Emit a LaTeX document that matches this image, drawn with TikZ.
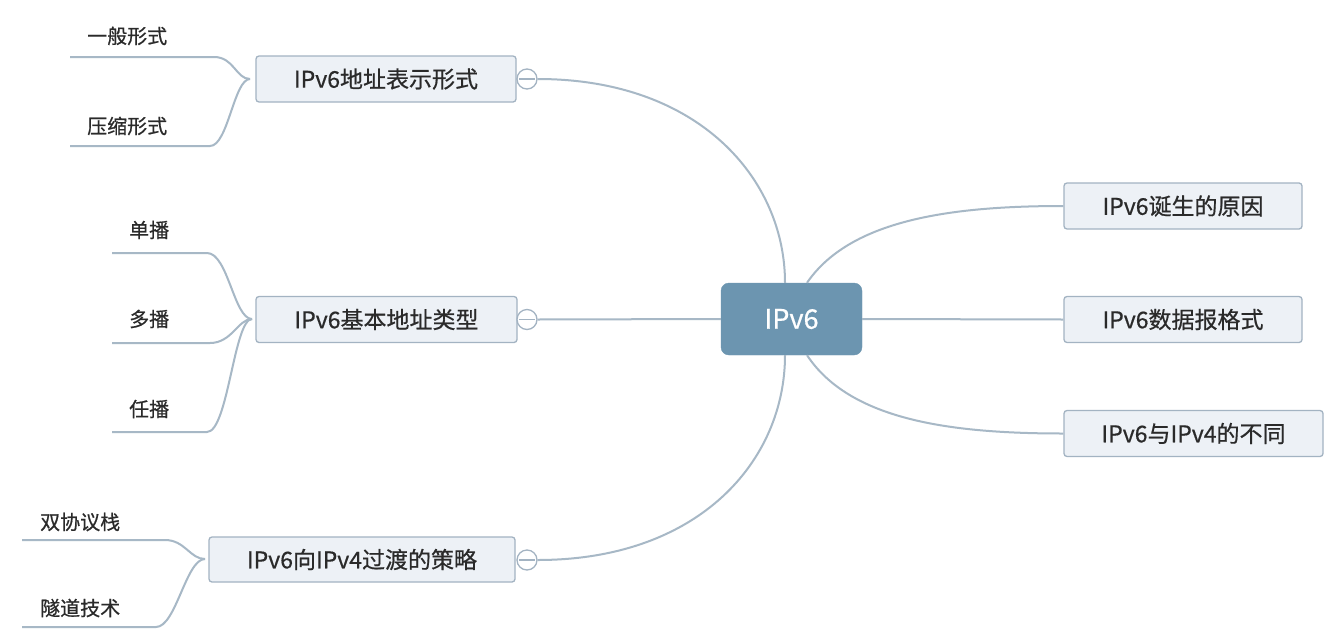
\documentclass[tikz,border=0pt]{standalone}
\usepackage{fontspec}
\setmainfont{Noto Sans CJK SC}[FakeBold=0.6]
\definecolor{linecol}{HTML}{A7B8C6}
\definecolor{boxborder}{HTML}{A3B3C2}
\definecolor{boxfill}{HTML}{EDF1F6}
\definecolor{rootfill}{HTML}{6C95B0}
\definecolor{txt}{HTML}{2A2A2A}
\tikzset{
  box/.style={draw=boxborder, fill=boxfill, rounded corners=3pt, line width=1.3pt, text=txt,
    font=\fontsize{23}{27}\selectfont, inner sep=0pt},
  rootbox/.style={fill=rootfill, draw=rootfill, rounded corners=8pt, text=white,
    font=\fontsize{27}{31}\selectfont, inner sep=0pt, minimum width=141pt, minimum height=72pt},
  leaf/.style={anchor=west, text=txt, font=\fontsize{20}{24}\selectfont, inner sep=0pt},
  link/.style={draw=linecol, line width=2pt},
  toggle/.style={circle, draw=boxborder, fill=white, minimum size=20pt, inner sep=0pt, line width=1.3pt},
  minusbar/.style={draw=boxborder, line width=1.3pt}
}
\begin{document}
\begin{tikzpicture}[x=1pt,y=-1pt]
\useasboundingbox (0,0) rectangle (1324,632);
\fill[white] (0,0) rectangle (1324,632);

% root
\node[rootbox] (root) at (791.5,319) {IPv6};

% right boxes
\node[box, minimum width=238pt, minimum height=46pt] (r1) at (1183,206) {IPv6诞生的原因};
\node[box, minimum width=238pt, minimum height=46pt] (r2) at (1183,319.5) {IPv6数据报格式};
\node[box, minimum width=259pt, minimum height=46pt] (r3) at (1193.5,433.5) {IPv6与IPv4的不同};

% left boxes
\node[box, minimum width=260pt, minimum height=46pt] (l1) at (386,79) {IPv6地址表示形式};
\node[box, minimum width=261pt, minimum height=46pt] (l2) at (386.5,319.5) {IPv6基本地址类型};
\node[box, minimum width=306pt, minimum height=45pt] (l3) at (362,559.5) {IPv6向IPv4过渡的策略};

% toggles
\node[toggle] (c1) at (527,79) {};
\node[toggle] (c2) at (527,319.5) {};
\node[toggle] (c3) at (527,560) {};
\foreach \c in {c1,c2,c3}{
  \draw[minusbar] ([xshift=3pt]\c.west) -- ([xshift=-3pt]\c.east);
}

% root connectors
\draw[link] (c1.east) .. controls (700,79) and (785,180) .. ([xshift=-6.5pt]root.north);
\draw[link] (c2.east) -- (root.west);
\draw[link] (c3.east) .. controls (700,560) and (785,460) .. ([xshift=-6.5pt]root.south);
\draw[link] ([xshift=15.5pt]root.north) .. controls (850,220) and (950,206) .. (r1.west);
\draw[link] (root.east) -- (r2.west);
\draw[link] ([xshift=15.5pt]root.south) .. controls (850,420) and (950,433.5) .. (r3.west);

% leaves of l1
\node[leaf] (a1) at (87,36) {一般形式};
\node[leaf] (a2) at (87,126) {压缩形式};
\coordinate (a1s) at (70,57);
\coordinate (a1e) at (214,57);
\coordinate (a2s) at (70,146);
\coordinate (a2e) at (210,146);
\coordinate (l1j) at (250,79);
\draw[link] (a1s) -- (a1e) .. controls (234,57) and (236,79) .. (l1j);
\draw[link] (a2s) -- (a2e) .. controls (228,146) and (234,79) .. (l1j);

% leaves of l2
\node[leaf] (b1) at (129,230) {单播};
\node[leaf] (b2) at (129,319) {多播};
\node[leaf] (b3) at (129,409) {任播};
\coordinate (b1s) at (112,253);
\coordinate (b1e) at (207,253);
\coordinate (b2s) at (112,343);
\coordinate (b2e) at (210,343);
\coordinate (b3s) at (112,432);
\coordinate (b3e) at (207,432);
\coordinate (l2j) at (252,319);
\draw[link] (b1s) -- (b1e) .. controls (228,253) and (234,319) .. (l2j);
\draw[link] (b2s) -- (b2e) .. controls (232,343) and (238,319) .. (l2j);
\draw[link] (b3s) -- (b3e) .. controls (228,432) and (234,319) .. (l2j);

% leaves of l3
\node[leaf] (d1) at (40,522) {双协议栈};
\node[leaf] (d2) at (40,608) {隧道技术};
\coordinate (d1s) at (22,540);
\coordinate (d1e) at (165,540);
\coordinate (d2s) at (22,627);
\coordinate (d2e) at (156,627);
\coordinate (l3j) at (205,559);
\draw[link] (d1s) -- (d1e) .. controls (185,540) and (190,559) .. (l3j);
\draw[link] (d2s) -- (d2e) .. controls (176,627) and (186,559) .. (l3j);
\end{tikzpicture}
\end{document}
